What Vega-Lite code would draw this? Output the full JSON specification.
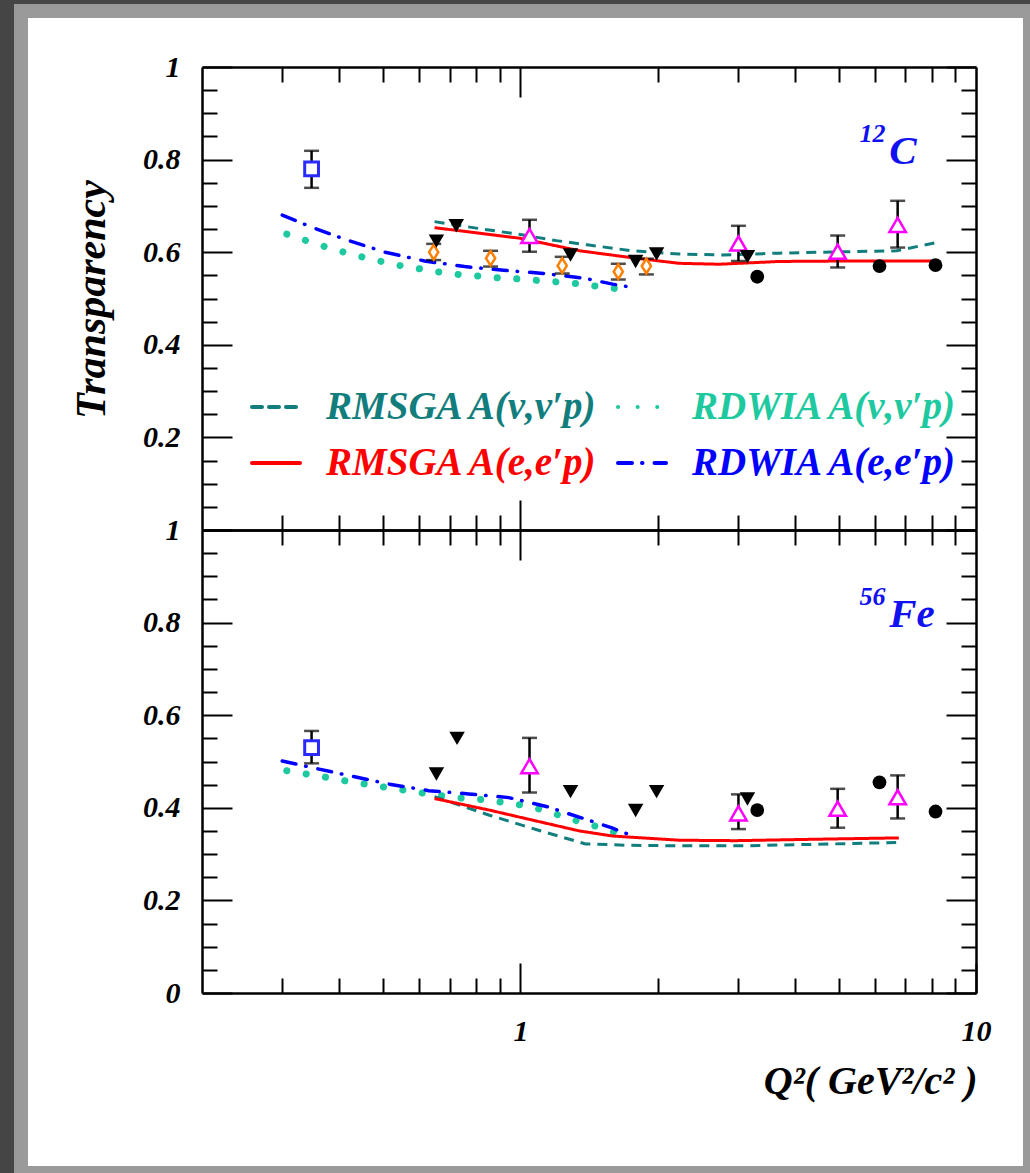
{
  "$schema": "https://vega.github.io/schema/vega-lite/v6.json",
  "width": 1009,
  "height": 1162,
  "autosize": {"type": "none"},
  "padding": {"left": 21, "top": 11, "right": 0, "bottom": 0},
  "background": "#454545",
  "config": {
    "font": "Liberation Serif",
    "view": {"fill": "white", "stroke": "#9a9a9a", "strokeWidth": 14},
    "axis": {
      "domainColor": "black", "domainWidth": 2.5, "tickColor": "black", "tickWidth": 2, "grid": false,
      "labelFont": "Liberation Serif", "labelFontSize": 30, "labelFontStyle": "italic", "labelFontWeight": "bold",
      "labelColor": "black", "labelOverlap": false, "labelFlush": false,
      "titleFont": "Liberation Serif", "titleFontSize": 40, "titleFontStyle": "italic", "titleFontWeight": "bold", "titleColor": "black"
    },
    "legend": {
      "labelFont": "Liberation Serif", "labelFontSize": 39, "labelFontStyle": "italic", "labelFontWeight": "bold", "labelLimit": 600
    }
  },
  "datasets": {
    "linesC": [
      {"s": "RMSGA A(ν,ν′p)", "q": 0.648, "t": 0.666}, {"s": "RMSGA A(ν,ν′p)", "q": 0.8, "t": 0.652}, {"s": "RMSGA A(ν,ν′p)", "q": 1.0, "t": 0.638},
      {"s": "RMSGA A(ν,ν′p)", "q": 1.2, "t": 0.625}, {"s": "RMSGA A(ν,ν′p)", "q": 1.4, "t": 0.616}, {"s": "RMSGA A(ν,ν′p)", "q": 1.76, "t": 0.603},
      {"s": "RMSGA A(ν,ν′p)", "q": 2.23, "t": 0.596}, {"s": "RMSGA A(ν,ν′p)", "q": 2.78, "t": 0.594}, {"s": "RMSGA A(ν,ν′p)", "q": 3.7, "t": 0.598},
      {"s": "RMSGA A(ν,ν′p)", "q": 5.2, "t": 0.601}, {"s": "RMSGA A(ν,ν′p)", "q": 6.7, "t": 0.603}, {"s": "RMSGA A(ν,ν′p)", "q": 8.1, "t": 0.62},
      {"s": "RMSGA A(e,e′p)", "q": 0.648, "t": 0.653}, {"s": "RMSGA A(e,e′p)", "q": 1.0, "t": 0.63}, {"s": "RMSGA A(e,e′p)", "q": 1.35, "t": 0.603},
      {"s": "RMSGA A(e,e′p)", "q": 1.76, "t": 0.588}, {"s": "RMSGA A(e,e′p)", "q": 2.23, "t": 0.576}, {"s": "RMSGA A(e,e′p)", "q": 2.73, "t": 0.574},
      {"s": "RMSGA A(e,e′p)", "q": 3.7, "t": 0.58}, {"s": "RMSGA A(e,e′p)", "q": 5.2, "t": 0.581}, {"s": "RMSGA A(e,e′p)", "q": 8.17, "t": 0.581},
      {"s": "RDWIA A(ν,ν′p)", "q": 0.307, "t": 0.639}, {"s": "RDWIA A(ν,ν′p)", "q": 0.339, "t": 0.625}, {"s": "RDWIA A(ν,ν′p)", "q": 0.372, "t": 0.612},
      {"s": "RDWIA A(ν,ν′p)", "q": 0.41, "t": 0.6}, {"s": "RDWIA A(ν,ν′p)", "q": 0.452, "t": 0.589}, {"s": "RDWIA A(ν,ν′p)", "q": 0.5, "t": 0.579},
      {"s": "RDWIA A(ν,ν′p)", "q": 0.551, "t": 0.57}, {"s": "RDWIA A(ν,ν′p)", "q": 0.61, "t": 0.563}, {"s": "RDWIA A(ν,ν′p)", "q": 0.674, "t": 0.556},
      {"s": "RDWIA A(ν,ν′p)", "q": 0.745, "t": 0.551}, {"s": "RDWIA A(ν,ν′p)", "q": 0.824, "t": 0.548}, {"s": "RDWIA A(ν,ν′p)", "q": 0.91, "t": 0.544},
      {"s": "RDWIA A(ν,ν′p)", "q": 1.007, "t": 0.542}, {"s": "RDWIA A(ν,ν′p)", "q": 1.116, "t": 0.538}, {"s": "RDWIA A(ν,ν′p)", "q": 1.234, "t": 0.535},
      {"s": "RDWIA A(ν,ν′p)", "q": 1.366, "t": 0.531}, {"s": "RDWIA A(ν,ν′p)", "q": 1.51, "t": 0.525}, {"s": "RDWIA A(ν,ν′p)", "q": 1.67, "t": 0.52},
      {"s": "RDWIA A(e,e′p)", "q": 0.3, "t": 0.68}, {"s": "RDWIA A(e,e′p)", "q": 0.346, "t": 0.655}, {"s": "RDWIA A(e,e′p)", "q": 0.417, "t": 0.626},
      {"s": "RDWIA A(e,e′p)", "q": 0.505, "t": 0.6}, {"s": "RDWIA A(e,e′p)", "q": 0.616, "t": 0.581}, {"s": "RDWIA A(e,e′p)", "q": 0.754, "t": 0.569},
      {"s": "RDWIA A(e,e′p)", "q": 0.919, "t": 0.561}, {"s": "RDWIA A(e,e′p)", "q": 1.125, "t": 0.554}, {"s": "RDWIA A(e,e′p)", "q": 1.377, "t": 0.544},
      {"s": "RDWIA A(e,e′p)", "q": 1.594, "t": 0.531}, {"s": "RDWIA A(e,e′p)", "q": 1.69, "t": 0.527}, {"s": "RDWIA A(e,e′p)", "q": 1.786, "t": 0.522}
    ],
    "linesF": [
      {"s": "RMSGA A(ν,ν′p)", "q": 0.648, "t": 0.424}, {"s": "RMSGA A(ν,ν′p)", "q": 0.855, "t": 0.384}, {"s": "RMSGA A(ν,ν′p)", "q": 1.1, "t": 0.351},
      {"s": "RMSGA A(ν,ν′p)", "q": 1.39, "t": 0.322}, {"s": "RMSGA A(ν,ν′p)", "q": 1.73, "t": 0.319}, {"s": "RMSGA A(ν,ν′p)", "q": 2.23, "t": 0.318},
      {"s": "RMSGA A(ν,ν′p)", "q": 3.13, "t": 0.318}, {"s": "RMSGA A(ν,ν′p)", "q": 4.38, "t": 0.321}, {"s": "RMSGA A(ν,ν′p)", "q": 6.68, "t": 0.325},
      {"s": "RMSGA A(e,e′p)", "q": 0.648, "t": 0.42}, {"s": "RMSGA A(e,e′p)", "q": 0.855, "t": 0.395}, {"s": "RMSGA A(e,e′p)", "q": 1.1, "t": 0.37},
      {"s": "RMSGA A(e,e′p)", "q": 1.348, "t": 0.35}, {"s": "RMSGA A(e,e′p)", "q": 1.594, "t": 0.339}, {"s": "RMSGA A(e,e′p)", "q": 2.23, "t": 0.33},
      {"s": "RMSGA A(e,e′p)", "q": 2.97, "t": 0.329}, {"s": "RMSGA A(e,e′p)", "q": 4.38, "t": 0.332}, {"s": "RMSGA A(e,e′p)", "q": 6.77, "t": 0.335},
      {"s": "RDWIA A(ν,ν′p)", "q": 0.307, "t": 0.48}, {"s": "RDWIA A(ν,ν′p)", "q": 0.339, "t": 0.473}, {"s": "RDWIA A(ν,ν′p)", "q": 0.375, "t": 0.466},
      {"s": "RDWIA A(ν,ν′p)", "q": 0.414, "t": 0.458}, {"s": "RDWIA A(ν,ν′p)", "q": 0.458, "t": 0.451}, {"s": "RDWIA A(ν,ν′p)", "q": 0.507, "t": 0.444},
      {"s": "RDWIA A(ν,ν′p)", "q": 0.557, "t": 0.438}, {"s": "RDWIA A(ν,ν′p)", "q": 0.619, "t": 0.431}, {"s": "RDWIA A(ν,ν′p)", "q": 0.684, "t": 0.425},
      {"s": "RDWIA A(ν,ν′p)", "q": 0.758, "t": 0.42}, {"s": "RDWIA A(ν,ν′p)", "q": 0.837, "t": 0.417}, {"s": "RDWIA A(ν,ν′p)", "q": 0.924, "t": 0.411},
      {"s": "RDWIA A(ν,ν′p)", "q": 1.024, "t": 0.405}, {"s": "RDWIA A(ν,ν′p)", "q": 1.131, "t": 0.394}, {"s": "RDWIA A(ν,ν′p)", "q": 1.243, "t": 0.381},
      {"s": "RDWIA A(ν,ν′p)", "q": 1.37, "t": 0.368}, {"s": "RDWIA A(ν,ν′p)", "q": 1.503, "t": 0.357}, {"s": "RDWIA A(ν,ν′p)", "q": 1.663, "t": 0.343},
      {"s": "RDWIA A(e,e′p)", "q": 0.3, "t": 0.501}, {"s": "RDWIA A(e,e′p)", "q": 0.348, "t": 0.487}, {"s": "RDWIA A(e,e′p)", "q": 0.423, "t": 0.469},
      {"s": "RDWIA A(e,e′p)", "q": 0.516, "t": 0.451}, {"s": "RDWIA A(e,e′p)", "q": 0.629, "t": 0.437}, {"s": "RDWIA A(e,e′p)", "q": 0.77, "t": 0.43},
      {"s": "RDWIA A(e,e′p)", "q": 0.943, "t": 0.422}, {"s": "RDWIA A(e,e′p)", "q": 1.148, "t": 0.402}, {"s": "RDWIA A(e,e′p)", "q": 1.394, "t": 0.375},
      {"s": "RDWIA A(e,e′p)", "q": 1.594, "t": 0.356}, {"s": "RDWIA A(e,e′p)", "q": 1.69, "t": 0.346}, {"s": "RDWIA A(e,e′p)", "q": 1.786, "t": 0.339}
    ],
    "ptsC": [
      {"m": "sq", "q": 0.348, "t": 0.78, "lo": 0.739, "hi": 0.819},
      {"m": "td", "q": 0.654, "t": 0.624}, {"m": "td", "q": 0.723, "t": 0.657}, {"m": "td", "q": 1.288, "t": 0.594},
      {"m": "td", "q": 1.79, "t": 0.58}, {"m": "td", "q": 1.99, "t": 0.596}, {"m": "td", "q": 3.15, "t": 0.59},
      {"m": "di", "q": 0.645, "t": 0.6, "lo": 0.583, "hi": 0.618}, {"m": "di", "q": 0.86, "t": 0.587, "lo": 0.569, "hi": 0.603},
      {"m": "di", "q": 1.235, "t": 0.571, "lo": 0.554, "hi": 0.59}, {"m": "di", "q": 1.64, "t": 0.558, "lo": 0.541, "hi": 0.575},
      {"m": "di", "q": 1.89, "t": 0.57, "lo": 0.552, "hi": 0.586},
      {"m": "tu", "q": 1.047, "t": 0.635, "lo": 0.601, "hi": 0.67}, {"m": "tu", "q": 3.01, "t": 0.619, "lo": 0.581, "hi": 0.657},
      {"m": "tu", "q": 4.97, "t": 0.601, "lo": 0.567, "hi": 0.636}, {"m": "tu", "q": 6.73, "t": 0.659, "lo": 0.61, "hi": 0.711},
      {"m": "ci", "q": 3.31, "t": 0.547}, {"m": "ci", "q": 6.14, "t": 0.57}, {"m": "ci", "q": 8.15, "t": 0.572}
    ],
    "ptsF": [
      {"m": "sq", "q": 0.348, "t": 0.53, "lo": 0.496, "hi": 0.566},
      {"m": "td", "q": 0.654, "t": 0.473}, {"m": "td", "q": 0.726, "t": 0.55}, {"m": "td", "q": 1.288, "t": 0.435},
      {"m": "td", "q": 1.79, "t": 0.394}, {"m": "td", "q": 1.99, "t": 0.435}, {"m": "td", "q": 3.15, "t": 0.419},
      {"m": "tu", "q": 1.047, "t": 0.49, "lo": 0.433, "hi": 0.551}, {"m": "tu", "q": 3.01, "t": 0.388, "lo": 0.354, "hi": 0.429},
      {"m": "tu", "q": 4.97, "t": 0.398, "lo": 0.357, "hi": 0.441}, {"m": "tu", "q": 6.73, "t": 0.423, "lo": 0.377, "hi": 0.47},
      {"m": "ci", "q": 3.31, "t": 0.395}, {"m": "ci", "q": 6.14, "t": 0.455}, {"m": "ci", "q": 8.15, "t": 0.392}
    ],
    "txtC": [{"k": "sup", "q": 6.33, "t": 0.838, "label": "12"}, {"k": "main", "q": 6.45, "t": 0.79, "label": "C"}],
    "txtF": [{"k": "sup", "q": 6.33, "t": 0.838, "label": "56"}, {"k": "main", "q": 6.45, "t": 0.79, "label": "Fe"}]
  },
  "resolve": {"scale": {"y": "independent"}, "axis": {"x": "independent", "y": "independent"}},
  "layer": [
    {
      "resolve": {"axis": {"x": "independent", "y": "independent"}},
      "layer": [
        {
          "data": {"name": "linesC"},
          "transform": [{"filter": "datum.s == 'RDWIA A(ν,ν′p)'"}],
          "mark": {"type": "line", "strokeWidth": 7, "strokeCap": "round"},
          "encoding": {
            "x": {"field": "q", "type": "quantitative", "scale": {"type": "log", "domain": [0.2, 10], "range": [181, 955], "nice": false}, "axis": null},
            "y": {"field": "t", "type": "quantitative", "scale": {"domain": [0, 1], "range": [519, 56], "nice": false, "zero": false}, "axis": null},
            "color": {"field": "s", "type": "nominal", "scale": {"domain": ["RMSGA A(ν,ν′p)", "RMSGA A(e,e′p)", "RDWIA A(ν,ν′p)", "RDWIA A(e,e′p)"], "range": ["#127d7d", "#ff0000", "#1ec9a0", "#0000ff"]},
              "legend": {"title": null, "orient": "none", "legendX": 229, "legendY": 370, "columns": 2, "symbolType": "stroke", "symbolSize": 2304, "symbolStrokeWidth": 4, "labelOffset": 24, "rowPadding": 10, "columnPadding": 10, "padding": 0,
                "encode": {
                  "labels": {"update": {"fill": [{"test": "datum.value == 'RMSGA A(ν,ν′p)'", "value": "#127d7d"}, {"test": "datum.value == 'RDWIA A(ν,ν′p)'", "value": "#1ec9a0"}, {"test": "datum.value == 'RMSGA A(e,e′p)'", "value": "#ff0000"}, {"value": "#0000ff"}]}},
                  "symbols": {"update": {"strokeCap": {"value": "round"}}}}}},
            "strokeDash": {"field": "s", "type": "nominal", "scale": {"domain": ["RMSGA A(ν,ν′p)", "RMSGA A(e,e′p)", "RDWIA A(ν,ν′p)", "RDWIA A(e,e′p)"], "range": [[10, 7], [1, 0], [0.1, 19.5], [14, 10, 0.5, 12]]}, "legend": {"title": null}}
          }
        },
        {
          "data": {"name": "linesC"},
          "transform": [{"filter": "datum.s == 'RMSGA A(ν,ν′p)' || datum.s == 'RMSGA A(e,e′p)'"}],
          "mark": {"type": "line", "strokeWidth": 3, "strokeCap": "butt"},
          "encoding": {
            "x": {"field": "q", "type": "quantitative", "scale": {"type": "log", "domain": [0.2, 10], "range": [181, 955], "nice": false},
              "axis": {"orient": "top", "offset": -56, "values": [0.3, 0.4, 0.5, 0.6, 0.7, 0.8, 0.9, 1, 2, 3, 4, 5, 6, 7, 8, 9], "tickSize": {"expr": "datum.value == 1 ? -30 : -15"}, "labels": false, "title": null}},
            "y": {"field": "t", "type": "quantitative", "scale": {"domain": [0, 1], "range": [519, 56], "nice": false, "zero": false},
              "axis": {"orient": "left", "offset": -181, "values": [0, 0.05, 0.1, 0.15, 0.2, 0.25, 0.3, 0.35, 0.4, 0.45, 0.5, 0.55, 0.6, 0.65, 0.7, 0.75, 0.8, 0.85, 0.9, 0.95, 1],
                "tickSize": {"expr": "abs(datum.value*5 - round(datum.value*5)) < 0.001 ? -30 : -15"},
                "labelExpr": "datum.value > 0.01 && abs(datum.value*5 - round(datum.value*5)) < 0.001 ? toString(round(datum.value*10)/10) : ''",
                "labelPadding": 52, "labelAlign": "right", "labelBaseline": "middle",
                "title": "Transparency", "titleFontSize": 42, "titleX": -98, "titleY": 288, "titleAngle": -90, "titleAlign": "center", "titleBaseline": "alphabetic"}},
            "color": {"field": "s", "type": "nominal", "scale": {"domain": ["RMSGA A(ν,ν′p)", "RMSGA A(e,e′p)", "RDWIA A(ν,ν′p)", "RDWIA A(e,e′p)"], "range": ["#127d7d", "#ff0000", "#1ec9a0", "#0000ff"]}},
            "strokeDash": {"field": "s", "type": "nominal", "scale": {"domain": ["RMSGA A(ν,ν′p)", "RMSGA A(e,e′p)", "RDWIA A(ν,ν′p)", "RDWIA A(e,e′p)"], "range": [[10, 7], [1, 0], [0.1, 19.5], [14, 10, 0.5, 12]]}}
          }
        },
        {
          "data": {"name": "linesC"},
          "transform": [{"filter": "datum.s == 'RDWIA A(e,e′p)'"}],
          "mark": {"type": "line", "strokeWidth": 3.5, "strokeCap": "round"},
          "encoding": {
            "x": {"field": "q", "type": "quantitative", "scale": {"type": "log", "domain": [0.2, 10], "range": [181, 955], "nice": false},
              "axis": {"orient": "bottom", "offset": -643, "values": [0.3, 0.4, 0.5, 0.6, 0.7, 0.8, 0.9, 1, 2, 3, 4, 5, 6, 7, 8, 9], "tickSize": {"expr": "datum.value == 1 ? -30 : -15"}, "labels": false, "title": null}},
            "y": {"field": "t", "type": "quantitative", "scale": {"domain": [0, 1], "range": [519, 56], "nice": false, "zero": false},
              "axis": {"orient": "right", "offset": -54, "values": [0, 0.05, 0.1, 0.15, 0.2, 0.25, 0.3, 0.35, 0.4, 0.45, 0.5, 0.55, 0.6, 0.65, 0.7, 0.75, 0.8, 0.85, 0.9, 0.95, 1],
                "tickSize": {"expr": "abs(datum.value*5 - round(datum.value*5)) < 0.001 ? -30 : -15"}, "labels": false, "title": null}},
            "color": {"field": "s", "type": "nominal", "scale": {"domain": ["RMSGA A(ν,ν′p)", "RMSGA A(e,e′p)", "RDWIA A(ν,ν′p)", "RDWIA A(e,e′p)"], "range": ["#127d7d", "#ff0000", "#1ec9a0", "#0000ff"]}},
            "strokeDash": {"field": "s", "type": "nominal", "scale": {"domain": ["RMSGA A(ν,ν′p)", "RMSGA A(e,e′p)", "RDWIA A(ν,ν′p)", "RDWIA A(e,e′p)"], "range": [[10, 7], [1, 0], [0.1, 19.5], [14, 10, 0.5, 12]]}}
          }
        },
        {
          "data": {"name": "ptsC"},
          "transform": [{"filter": "isValid(datum.lo)"}],
          "mark": {"type": "errorbar", "ticks": true, "size": 15, "thickness": 2.5, "color": "black"},
          "encoding": {
            "x": {"field": "q", "type": "quantitative", "scale": {"type": "log", "domain": [0.2, 10], "range": [181, 955], "nice": false}, "axis": null},
            "y": {"field": "lo", "type": "quantitative", "scale": {"domain": [0, 1], "range": [519, 56], "nice": false, "zero": false}, "axis": null},
            "y2": {"field": "hi"}
          }
        },
        {
          "data": {"name": "ptsC"},
          "transform": [{"filter": "datum.m == 'sq'"}],
          "mark": {"type": "point", "shape": "square", "size": 190, "filled": true, "fill": "white", "stroke": "#2a2aff", "strokeWidth": 3, "opacity": 1},
          "encoding": {
            "x": {"field": "q", "type": "quantitative", "scale": {"type": "log", "domain": [0.2, 10], "range": [181, 955], "nice": false}, "axis": null},
            "y": {"field": "t", "type": "quantitative", "scale": {"domain": [0, 1], "range": [519, 56], "nice": false, "zero": false}, "axis": null}
          }
        },
        {
          "data": {"name": "ptsC"},
          "transform": [{"filter": "datum.m == 'di'"}],
          "mark": {"type": "point", "shape": "M0,-1L0.62,0L0,1L-0.62,0Z", "size": 220, "filled": true, "fill": "white", "stroke": "#ff7f00", "strokeWidth": 2.5, "opacity": 1},
          "encoding": {
            "x": {"field": "q", "type": "quantitative", "scale": {"type": "log", "domain": [0.2, 10], "range": [181, 955], "nice": false}, "axis": null},
            "y": {"field": "t", "type": "quantitative", "scale": {"domain": [0, 1], "range": [519, 56], "nice": false, "zero": false}, "axis": null}
          }
        },
        {
          "data": {"name": "ptsC"},
          "transform": [{"filter": "datum.m == 'tu'"}],
          "mark": {"type": "point", "shape": "triangle-up", "size": 270, "filled": true, "fill": "white", "stroke": "#ff00ff", "strokeWidth": 2.5, "opacity": 1},
          "encoding": {
            "x": {"field": "q", "type": "quantitative", "scale": {"type": "log", "domain": [0.2, 10], "range": [181, 955], "nice": false}, "axis": null},
            "y": {"field": "t", "type": "quantitative", "scale": {"domain": [0, 1], "range": [519, 56], "nice": false, "zero": false}, "axis": null}
          }
        },
        {
          "data": {"name": "ptsC"},
          "transform": [{"filter": "datum.m == 'td'"}],
          "mark": {"type": "point", "shape": "triangle-down", "size": 240, "filled": true, "color": "black", "opacity": 1},
          "encoding": {
            "x": {"field": "q", "type": "quantitative", "scale": {"type": "log", "domain": [0.2, 10], "range": [181, 955], "nice": false}, "axis": null},
            "y": {"field": "t", "type": "quantitative", "scale": {"domain": [0, 1], "range": [519, 56], "nice": false, "zero": false}, "axis": null}
          }
        },
        {
          "data": {"name": "ptsC"},
          "transform": [{"filter": "datum.m == 'ci'"}],
          "mark": {"type": "point", "shape": "circle", "size": 190, "filled": true, "color": "black", "opacity": 1},
          "encoding": {
            "x": {"field": "q", "type": "quantitative", "scale": {"type": "log", "domain": [0.2, 10], "range": [181, 955], "nice": false}, "axis": null},
            "y": {"field": "t", "type": "quantitative", "scale": {"domain": [0, 1], "range": [519, 56], "nice": false, "zero": false}, "axis": null}
          }
        },
        {
          "data": {"name": "txtC"},
          "transform": [{"filter": "datum.k == 'sup'"}],
          "mark": {"type": "text", "align": "right", "baseline": "alphabetic", "font": "Liberation Serif", "fontSize": 26, "fontStyle": "italic", "fontWeight": "bold", "color": "#1010f0"},
          "encoding": {
            "x": {"field": "q", "type": "quantitative", "scale": {"type": "log", "domain": [0.2, 10], "range": [181, 955], "nice": false}, "axis": null},
            "y": {"field": "t", "type": "quantitative", "scale": {"domain": [0, 1], "range": [519, 56], "nice": false, "zero": false}, "axis": null},
            "text": {"field": "label"}
          }
        },
        {
          "data": {"name": "txtC"},
          "transform": [{"filter": "datum.k == 'main'"}],
          "mark": {"type": "text", "align": "left", "baseline": "alphabetic", "font": "Liberation Serif", "fontSize": 41, "fontStyle": "italic", "fontWeight": "bold", "color": "#1010f0"},
          "encoding": {
            "x": {"field": "q", "type": "quantitative", "scale": {"type": "log", "domain": [0.2, 10], "range": [181, 955], "nice": false}, "axis": null},
            "y": {"field": "t", "type": "quantitative", "scale": {"domain": [0, 1], "range": [519, 56], "nice": false, "zero": false}, "axis": null},
            "text": {"field": "label"}
          }
        }
      ]
    },
    {
      "resolve": {"axis": {"x": "independent", "y": "independent"}},
      "layer": [
        {
          "data": {"name": "linesF"},
          "transform": [{"filter": "datum.s == 'RDWIA A(ν,ν′p)'"}],
          "mark": {"type": "line", "strokeWidth": 7, "strokeCap": "round"},
          "encoding": {
            "x": {"field": "q", "type": "quantitative", "scale": {"type": "log", "domain": [0.2, 10], "range": [181, 955], "nice": false}, "axis": null},
            "y": {"field": "t", "type": "quantitative", "scale": {"domain": [0, 1], "range": [982, 519], "nice": false, "zero": false}, "axis": null},
            "color": {"field": "s", "type": "nominal", "scale": {"domain": ["RMSGA A(ν,ν′p)", "RMSGA A(e,e′p)", "RDWIA A(ν,ν′p)", "RDWIA A(e,e′p)"], "range": ["#127d7d", "#ff0000", "#1ec9a0", "#0000ff"]}},
            "strokeDash": {"field": "s", "type": "nominal", "scale": {"domain": ["RMSGA A(ν,ν′p)", "RMSGA A(e,e′p)", "RDWIA A(ν,ν′p)", "RDWIA A(e,e′p)"], "range": [[10, 7], [1, 0], [0.1, 19.5], [14, 10, 0.5, 12]]}}
          }
        },
        {
          "data": {"name": "linesF"},
          "transform": [{"filter": "datum.s == 'RMSGA A(ν,ν′p)' || datum.s == 'RMSGA A(e,e′p)'"}],
          "mark": {"type": "line", "strokeWidth": 3, "strokeCap": "butt"},
          "encoding": {
            "x": {"field": "q", "type": "quantitative", "scale": {"type": "log", "domain": [0.2, 10], "range": [181, 955], "nice": false},
              "axis": {"orient": "top", "offset": -519, "values": [0.3, 0.4, 0.5, 0.6, 0.7, 0.8, 0.9, 1, 2, 3, 4, 5, 6, 7, 8, 9], "tickSize": {"expr": "datum.value == 1 ? -30 : -15"}, "labels": false, "title": null}},
            "y": {"field": "t", "type": "quantitative", "scale": {"domain": [0, 1], "range": [982, 519], "nice": false, "zero": false},
              "axis": {"orient": "left", "offset": -181, "values": [0, 0.05, 0.1, 0.15, 0.2, 0.25, 0.3, 0.35, 0.4, 0.45, 0.5, 0.55, 0.6, 0.65, 0.7, 0.75, 0.8, 0.85, 0.9, 0.95, 1],
                "tickSize": {"expr": "abs(datum.value*5 - round(datum.value*5)) < 0.001 ? -30 : -15"},
                "labelExpr": "abs(datum.value*5 - round(datum.value*5)) < 0.001 ? toString(round(datum.value*10)/10) : ''",
                "labelPadding": 52, "labelAlign": "right", "labelBaseline": "middle", "title": null}},
            "color": {"field": "s", "type": "nominal", "scale": {"domain": ["RMSGA A(ν,ν′p)", "RMSGA A(e,e′p)", "RDWIA A(ν,ν′p)", "RDWIA A(e,e′p)"], "range": ["#127d7d", "#ff0000", "#1ec9a0", "#0000ff"]}},
            "strokeDash": {"field": "s", "type": "nominal", "scale": {"domain": ["RMSGA A(ν,ν′p)", "RMSGA A(e,e′p)", "RDWIA A(ν,ν′p)", "RDWIA A(e,e′p)"], "range": [[10, 7], [1, 0], [0.1, 19.5], [14, 10, 0.5, 12]]}}
          }
        },
        {
          "data": {"name": "linesF"},
          "transform": [{"filter": "datum.s == 'RDWIA A(e,e′p)'"}],
          "mark": {"type": "line", "strokeWidth": 3.5, "strokeCap": "round"},
          "encoding": {
            "x": {"field": "q", "type": "quantitative", "scale": {"type": "log", "domain": [0.2, 10], "range": [181, 955], "nice": false},
              "axis": {"orient": "bottom", "offset": -180, "values": [0.3, 0.4, 0.5, 0.6, 0.7, 0.8, 0.9, 1, 2, 3, 4, 5, 6, 7, 8, 9, 10], "tickSize": {"expr": "datum.value == 1 || datum.value == 10 ? -30 : -15"},
                "labelExpr": "datum.value == 1 ? '1' : (datum.value == 10 ? '10' : '')", "labelPadding": 53, "labelAlign": "center", "labelBaseline": "top",
                "title": "Q²( GeV²/c² )", "titleX": 956, "titleY": 100, "titleAlign": "right", "titleBaseline": "alphabetic", "titleAngle": 0}},
            "y": {"field": "t", "type": "quantitative", "scale": {"domain": [0, 1], "range": [982, 519], "nice": false, "zero": false},
              "axis": {"orient": "right", "offset": -54, "values": [0, 0.05, 0.1, 0.15, 0.2, 0.25, 0.3, 0.35, 0.4, 0.45, 0.5, 0.55, 0.6, 0.65, 0.7, 0.75, 0.8, 0.85, 0.9, 0.95, 1],
                "tickSize": {"expr": "abs(datum.value*5 - round(datum.value*5)) < 0.001 ? -30 : -15"}, "labels": false, "title": null}},
            "color": {"field": "s", "type": "nominal", "scale": {"domain": ["RMSGA A(ν,ν′p)", "RMSGA A(e,e′p)", "RDWIA A(ν,ν′p)", "RDWIA A(e,e′p)"], "range": ["#127d7d", "#ff0000", "#1ec9a0", "#0000ff"]}},
            "strokeDash": {"field": "s", "type": "nominal", "scale": {"domain": ["RMSGA A(ν,ν′p)", "RMSGA A(e,e′p)", "RDWIA A(ν,ν′p)", "RDWIA A(e,e′p)"], "range": [[10, 7], [1, 0], [0.1, 19.5], [14, 10, 0.5, 12]]}}
          }
        },
        {
          "data": {"name": "ptsF"},
          "transform": [{"filter": "isValid(datum.lo)"}],
          "mark": {"type": "errorbar", "ticks": true, "size": 15, "thickness": 2.5, "color": "black"},
          "encoding": {
            "x": {"field": "q", "type": "quantitative", "scale": {"type": "log", "domain": [0.2, 10], "range": [181, 955], "nice": false}, "axis": null},
            "y": {"field": "lo", "type": "quantitative", "scale": {"domain": [0, 1], "range": [982, 519], "nice": false, "zero": false}, "axis": null},
            "y2": {"field": "hi"}
          }
        },
        {
          "data": {"name": "ptsF"},
          "transform": [{"filter": "datum.m == 'sq'"}],
          "mark": {"type": "point", "shape": "square", "size": 190, "filled": true, "fill": "white", "stroke": "#2a2aff", "strokeWidth": 3, "opacity": 1},
          "encoding": {
            "x": {"field": "q", "type": "quantitative", "scale": {"type": "log", "domain": [0.2, 10], "range": [181, 955], "nice": false}, "axis": null},
            "y": {"field": "t", "type": "quantitative", "scale": {"domain": [0, 1], "range": [982, 519], "nice": false, "zero": false}, "axis": null}
          }
        },
        {
          "data": {"name": "ptsF"},
          "transform": [{"filter": "datum.m == 'tu'"}],
          "mark": {"type": "point", "shape": "triangle-up", "size": 270, "filled": true, "fill": "white", "stroke": "#ff00ff", "strokeWidth": 2.5, "opacity": 1},
          "encoding": {
            "x": {"field": "q", "type": "quantitative", "scale": {"type": "log", "domain": [0.2, 10], "range": [181, 955], "nice": false}, "axis": null},
            "y": {"field": "t", "type": "quantitative", "scale": {"domain": [0, 1], "range": [982, 519], "nice": false, "zero": false}, "axis": null}
          }
        },
        {
          "data": {"name": "ptsF"},
          "transform": [{"filter": "datum.m == 'td'"}],
          "mark": {"type": "point", "shape": "triangle-down", "size": 240, "filled": true, "color": "black", "opacity": 1},
          "encoding": {
            "x": {"field": "q", "type": "quantitative", "scale": {"type": "log", "domain": [0.2, 10], "range": [181, 955], "nice": false}, "axis": null},
            "y": {"field": "t", "type": "quantitative", "scale": {"domain": [0, 1], "range": [982, 519], "nice": false, "zero": false}, "axis": null}
          }
        },
        {
          "data": {"name": "ptsF"},
          "transform": [{"filter": "datum.m == 'ci'"}],
          "mark": {"type": "point", "shape": "circle", "size": 190, "filled": true, "color": "black", "opacity": 1},
          "encoding": {
            "x": {"field": "q", "type": "quantitative", "scale": {"type": "log", "domain": [0.2, 10], "range": [181, 955], "nice": false}, "axis": null},
            "y": {"field": "t", "type": "quantitative", "scale": {"domain": [0, 1], "range": [982, 519], "nice": false, "zero": false}, "axis": null}
          }
        },
        {
          "data": {"name": "txtF"},
          "transform": [{"filter": "datum.k == 'sup'"}],
          "mark": {"type": "text", "align": "right", "baseline": "alphabetic", "font": "Liberation Serif", "fontSize": 26, "fontStyle": "italic", "fontWeight": "bold", "color": "#1010f0"},
          "encoding": {
            "x": {"field": "q", "type": "quantitative", "scale": {"type": "log", "domain": [0.2, 10], "range": [181, 955], "nice": false}, "axis": null},
            "y": {"field": "t", "type": "quantitative", "scale": {"domain": [0, 1], "range": [982, 519], "nice": false, "zero": false}, "axis": null},
            "text": {"field": "label"}
          }
        },
        {
          "data": {"name": "txtF"},
          "transform": [{"filter": "datum.k == 'main'"}],
          "mark": {"type": "text", "align": "left", "baseline": "alphabetic", "font": "Liberation Serif", "fontSize": 41, "fontStyle": "italic", "fontWeight": "bold", "color": "#1010f0"},
          "encoding": {
            "x": {"field": "q", "type": "quantitative", "scale": {"type": "log", "domain": [0.2, 10], "range": [181, 955], "nice": false}, "axis": null},
            "y": {"field": "t", "type": "quantitative", "scale": {"domain": [0, 1], "range": [982, 519], "nice": false, "zero": false}, "axis": null},
            "text": {"field": "label"}
          }
        }
      ]
    }
  ]
}
